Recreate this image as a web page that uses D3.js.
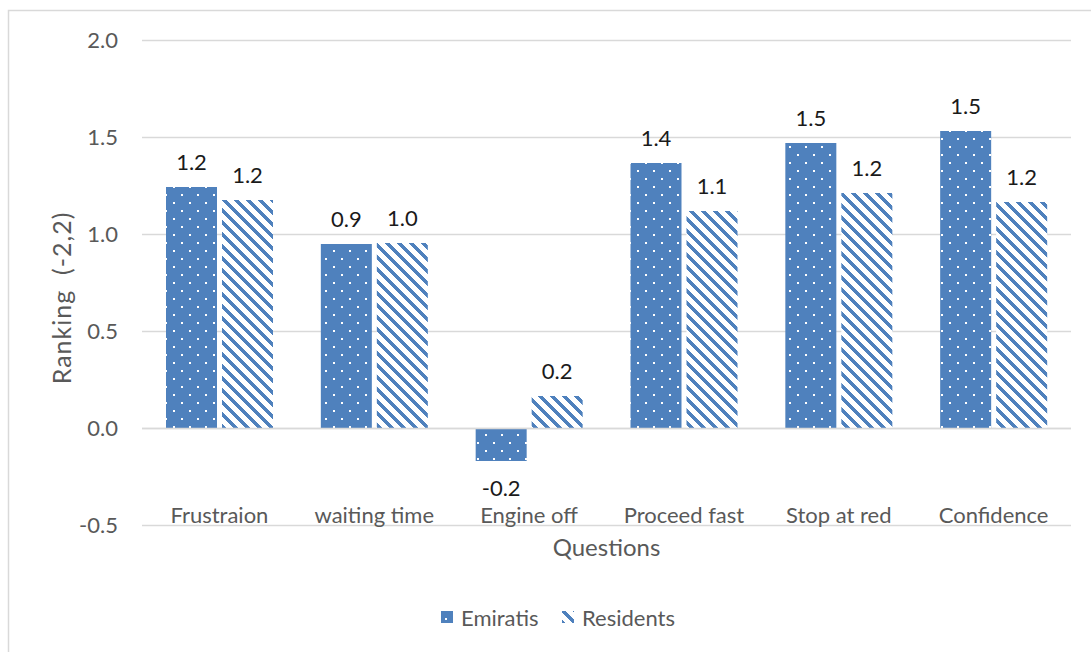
<!DOCTYPE html>
<html>
<head>
<meta charset="utf-8">
<script src="https://cdn.jsdelivr.net/npm/d3@7/dist/d3.min.js"></script>
<style>
  html, body { margin: 0; padding: 0; background: #fff; }
  svg { display: block; font-family: Lato, "Open Sans", sans-serif; }
</style>
</head>
<body>
<svg id="chart" width="1091" height="652"></svg>
<script>
// Survey questions and the mean ranking per group (scale -2..2)
const categories = ["Frustraion", "waiting time", "Engine off", "Proceed fast", "Stop at red", "Confidence"];
const seriesNames = ["Emiratis", "Residents"];
const emiratis = [1.242, 0.948, -0.170, 1.366, 1.469, 1.531];
const residents = [1.175, 0.954, 0.165, 1.119, 1.211, 1.165];
const yTicks = [-0.5, 0.0, 0.5, 1.0, 1.5, 2.0];

const series = [
  { name: seriesNames[0], values: emiratis, fill: "url(#dots)" },
  { name: seriesNames[1], values: residents, fill: "url(#stripes)" }
];

const blue = "#4f81bd";
const svg = d3.select("#chart");

// Fill patterns: white dots on blue, and blue downward diagonal stripes
const defs = svg.append("defs");
const dots = defs.append("pattern")
  .attr("id", "dots").attr("patternUnits", "userSpaceOnUse")
  .attr("width", 16).attr("height", 16);
dots.append("rect").attr("width", 16).attr("height", 16).attr("fill", blue);
dots.append("rect").attr("x", 5).attr("y", 2).attr("width", 2).attr("height", 2).attr("fill", "#fff");
dots.append("rect").attr("x", 13).attr("y", 10).attr("width", 2).attr("height", 2).attr("fill", "#fff");

const stripes = defs.append("pattern")
  .attr("id", "stripes").attr("patternUnits", "userSpaceOnUse")
  .attr("width", 12).attr("height", 12);
stripes.append("rect").attr("width", 12).attr("height", 12).attr("fill", "#fff");
stripes.append("path")
  .attr("d", "M-3,-3 L15,15 M-3,9 L3,15 M9,-3 L15,3")
  .attr("stroke", blue).attr("stroke-width", 4.2).attr("shape-rendering", "crispEdges");

// Chart-area frame (runs off the right and bottom edges)
svg.append("rect")
  .attr("x", 8.5).attr("y", 10.5).attr("width", 1100).attr("height", 700)
  .attr("fill", "none").attr("stroke", "#d9d9d9").attr("stroke-width", 1.5);

const plot = { left: 142, right: 1071, top: 40, bottom: 525 };

const x0 = d3.scaleBand().domain(categories).range([plot.left, plot.right]).paddingInner(0).paddingOuter(0);
const y = d3.scaleLinear().domain([-0.5, 2.0]).range([plot.bottom, plot.top]);

const groupPad = 24;
const barW = 51;
const barGap = 5;
const x1 = d => (d === 0 ? groupPad : groupPad + barW + barGap);

// Horizontal gridlines
svg.append("g").selectAll("line")
  .data(yTicks)
  .join("line")
  .attr("x1", plot.left).attr("x2", plot.right)
  .attr("y1", d => Math.round(y(d)) + 0.5).attr("y2", d => Math.round(y(d)) + 0.5)
  .attr("stroke", "#d9d9d9").attr("stroke-width", 1.5);

// One-decimal labels with a plain hyphen for negatives
const fmt = v => d3.format(".1f")(v).replace("\u2212", "-");

// Y axis tick labels
svg.append("g").selectAll("text")
  .data(yTicks)
  .join("text")
  .attr("x", 118).attr("y", d => y(d))
  .attr("dy", "0.35em")
  .attr("text-anchor", "end")
  .attr("fill", "#595959").attr("font-size", 22)
  .text(d => fmt(d));

// Bars
series.forEach((s, si) => {
  const g = svg.append("g");
  g.selectAll("rect")
    .data(s.values)
    .join("rect")
    .attr("x", (d, i) => x0(categories[i]) + x1(si))
    .attr("width", barW)
    .attr("y", d => Math.round(y(Math.max(0, d))))
    .attr("height", d => Math.abs(Math.round(y(d)) - Math.round(y(0))))
    .attr("fill", s.fill);
  // Value labels
  g.selectAll("text")
    .data(s.values)
    .join("text")
    .attr("x", (d, i) => x0(categories[i]) + x1(si) + barW / 2)
    .attr("y", d => d >= 0 ? y(d) - 17 : y(d) + 35)
    .attr("text-anchor", "middle")
    .attr("fill", "#1a1a1a").attr("font-size", 22)
    .text(d => fmt(d));
});

// Zero line
svg.append("line")
  .attr("x1", plot.left).attr("x2", plot.right)
  .attr("y1", Math.round(y(0)) + 0.5).attr("y2", Math.round(y(0)) + 0.5)
  .attr("stroke", "#d9d9d9").attr("stroke-width", 1.5);

// Category labels
svg.append("g").selectAll("text")
  .data(categories)
  .join("text")
  .attr("x", d => x0(d) + x0.bandwidth() / 2)
  .attr("y", 515).attr("dy", "0.35em")
  .attr("text-anchor", "middle")
  .attr("fill", "#595959").attr("font-size", 22)
  .text(d => d);

// Axis titles
svg.append("text")
  .attr("x", (plot.left + plot.right) / 2).attr("y", 548).attr("dy", "0.35em")
  .attr("text-anchor", "middle")
  .attr("fill", "#595959").attr("font-size", 24)
  .text("Questions");

svg.append("text")
  .attr("transform", "translate(62,298) rotate(-90)")
  .attr("dy", "0.35em")
  .attr("text-anchor", "middle")
  .attr("fill", "#595959").attr("font-size", 25)
  .attr("letter-spacing", 1)
  .style("white-space", "pre")
  .text("Ranking  (-2,2)");

// Legend
const legend = svg.append("g");
const legendItems = [
  { name: series[0].name, fill: series[0].fill, x: 441 },
  { name: series[1].name, fill: series[1].fill, x: 562 }
];
legendItems.forEach(it => {
  legend.append("rect")
    .attr("x", it.x).attr("y", 611).attr("width", 12).attr("height", 12)
    .attr("fill", it.fill);
  legend.append("text")
    .attr("x", it.x + 20).attr("y", 618).attr("dy", "0.35em")
    .attr("fill", "#595959").attr("font-size", 22)
    .text(it.name);
});
</script>
</body>
</html>
